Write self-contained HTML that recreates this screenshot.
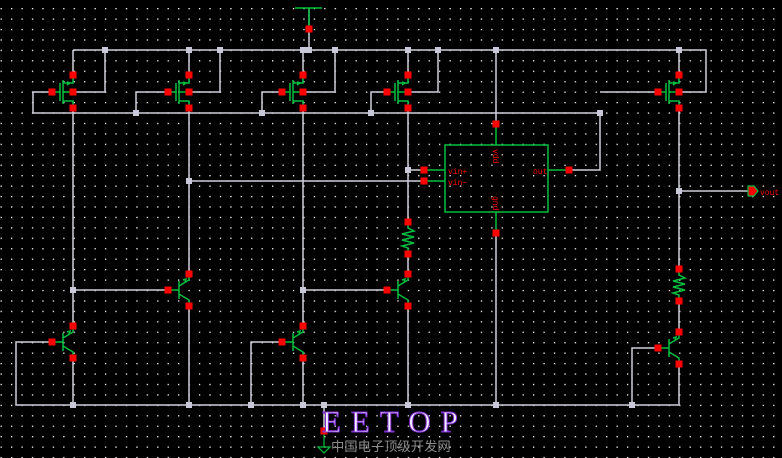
<!DOCTYPE html>
<html><head><meta charset="utf-8"><style>
html,body{margin:0;padding:0;background:#000;width:782px;height:458px;overflow:hidden}
svg{display:block}
</style></head><body>
<svg width="782" height="458" viewBox="0 0 782 458" xmlns="http://www.w3.org/2000/svg">
<defs>
<pattern id="g" x="11" y="8" width="10.44" height="10.44" patternUnits="userSpaceOnUse">
<rect x="0" y="0" width="1.3" height="1.3" fill="#fff"/>
</pattern>
<g id="pm">
<path d="M-21,0H-13M-13,-9V9M-10,-12V12M-10,-9H0V-17M-10,9H0V16M-10,0H0M-6,-7l3,-2l-3,-1" stroke="#00c040" stroke-width="1.5" fill="none"/>
<rect x="-3.5" y="-20.5" width="7" height="7" fill="#f00"/>
<rect x="-3.5" y="12.5" width="7" height="7" fill="#f00"/>
<rect x="-24.5" y="-3.5" width="7" height="7" fill="#f00"/>
<rect x="-3.5" y="-3.5" width="7" height="7" fill="#f00"/>
</g>
<g id="q">
<path d="M-21,0H-10M-10,-9V9M-10,-4L0,-10V-16M-10,4L0,10V16M-6,-10l3,-1l-1,3" stroke="#00c040" stroke-width="1.5" fill="none"/>
<rect x="-3.5" y="-19.5" width="7" height="7" fill="#f00"/>
<rect x="-3.5" y="12.5" width="7" height="7" fill="#f00"/>
<rect x="-24.5" y="-3.5" width="7" height="7" fill="#f00"/>
</g>
<g id="r">
<path d="M0,0V6L6,9L-6,12L6,15L-6,18L6,21L-6,24L0,26V32" stroke="#00c040" stroke-width="1.5" fill="none"/>
<rect x="-3.5" y="-3.5" width="7" height="7" fill="#f00"/>
<rect x="-3.5" y="28.5" width="7" height="7" fill="#f00"/>
</g>
<rect id="n" x="-3" y="-3" width="6" height="6" fill="#c8c8d8"/>
</defs>
<rect width="782" height="458" fill="#000"/>
<rect width="782" height="458" fill="url(#g)"/>
<g stroke="#d0d0dc" stroke-width="1.5" fill="none">
<path d="M309,8V50M73,50H679M679,50H706V92H679"/>
<path d="M73,50V75M73,92H105V50M189,50V75M189,92H220V50M303,50V75M303,92H335V50M408,50V75M408,92H438V50M679,50V75"/>
<path d="M52,92H33V113H600V170H569M600,92H658M136,113V92H167M262,113V92H282M371,113V92H387"/>
<path d="M73,108V327M73,290H167M189,108V274M189,181H424M408,170H424M408,108V222M408,254V274M303,108V327M303,290H387"/>
<path d="M496,50V124M496,233V405"/>
<path d="M52,342H16V405H679M73,358V405M189,306V405M282,342H251V405M303,358V405M408,306V405"/>
<path d="M679,108V269M679,191H748M679,301V332M679,363V405M658,348H632V405"/>
</g>
<path d="M295,8H322M309,8V29" stroke="#00c040" stroke-width="1.5"/>
<rect x="305.5" y="25.5" width="7" height="7" fill="#f00"/>
<use href="#pm" x="73" y="92"/>
<use href="#pm" x="189" y="92"/>
<use href="#pm" x="303" y="92"/>
<use href="#pm" x="408" y="92"/>
<use href="#pm" x="679" y="92"/>
<use href="#q" x="73" y="342"/>
<use href="#q" x="189" y="290"/>
<use href="#q" x="303" y="342"/>
<use href="#q" x="408" y="290"/>
<use href="#q" x="679" y="348"/>
<use href="#r" x="408" y="222"/>
<use href="#r" x="679" y="269"/>
<g>
<rect x="445" y="145" width="103" height="67" fill="none" stroke="#00c040" stroke-width="1.5"/>
<path d="M496,124V145M496,212V233M424,170H445M424,181H445M548,170H569" stroke="#00c040" stroke-width="1.5"/>
<rect x="492.5" y="120.5" width="7" height="7" fill="#f00"/>
<rect x="492.5" y="229.5" width="7" height="7" fill="#f00"/>
<rect x="420.5" y="166.5" width="7" height="7" fill="#f00"/>
<rect x="420.5" y="177.5" width="7" height="7" fill="#f00"/>
<rect x="565.5" y="166.5" width="7" height="7" fill="#f00"/>
<g fill="#f00" font-family="Liberation Mono, monospace" font-size="8">
<text x="448" y="174">vin+</text>
<text x="448" y="185">vin−</text>
<text x="533" y="174">out</text>
<text transform="translate(493,149) rotate(90)">vdd</text>
<text transform="translate(493,196) rotate(90)">gnd</text>
</g>
</g>
<path d="M748,186H754L758,191L754,196H748Z" fill="#f00" stroke="#00c040" stroke-width="1.2"/>
<text x="760" y="195" fill="#f00" font-family="Liberation Mono, monospace" font-size="8">vout</text>
<g>
<use href="#n" x="105" y="50"/><use href="#n" x="189" y="50"/><use href="#n" x="220" y="50"/>
<use href="#n" x="303" y="50"/><use href="#n" x="309" y="50"/><use href="#n" x="335" y="50"/>
<use href="#n" x="408" y="50"/><use href="#n" x="438" y="50"/><use href="#n" x="496" y="50"/>
<use href="#n" x="679" y="50"/><use href="#n" x="136" y="113"/><use href="#n" x="262" y="113"/>
<use href="#n" x="371" y="113"/><use href="#n" x="600" y="113"/><use href="#n" x="189" y="181"/>
<use href="#n" x="408" y="170"/><use href="#n" x="73" y="290"/><use href="#n" x="303" y="290"/>
<use href="#n" x="679" y="191"/>
<use href="#n" x="73" y="405"/><use href="#n" x="189" y="405"/><use href="#n" x="251" y="405"/>
<use href="#n" x="303" y="405"/><use href="#n" x="408" y="405"/><use href="#n" x="496" y="405"/>
<use href="#n" x="632" y="405"/><use href="#n" x="324" y="405"/>
</g>
<path d="M324,405V431" stroke="#d0d0dc" stroke-width="1.5"/>
<path d="M324,431V447M318,447H330L324,453Z" stroke="#00c040" stroke-width="1.2" fill="none"/>
<rect x="320.5" y="427.5" width="7" height="7" fill="#f00"/>
<text x="322" y="432" fill="#f4f0ff" stroke="#8030d0" stroke-width="1" font-family="Liberation Serif, serif" font-size="31" letter-spacing="10">EETOP</text>
<text x="331" y="451" fill="#8a8a8a" font-family="Liberation Sans, 'Noto Sans CJK SC', sans-serif" font-size="13.3">中国电子顶级开发网</text>
</svg>
</body></html>
